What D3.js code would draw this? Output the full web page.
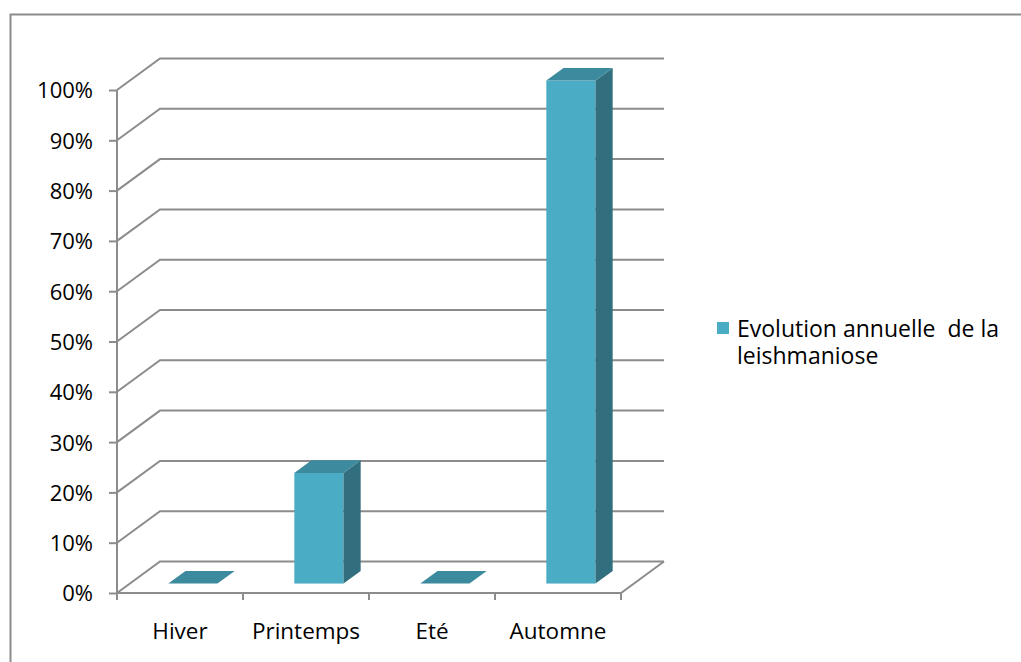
<!DOCTYPE html>
<html>
<script src='https://d3js.org/d3.v7.min.js'></script>
<style>
  html, body {
    margin: 0;
    background-color: #ffffff;
  }
  text {
    font-family: "Open Sans", sans-serif;
    fill: #000;
  }
</style>
<body>
<div id="vis"></div>
</body>
<script>
// chart values
var seasons = ["Hiver", "Printemps", "Eté", "Automne"];
var values = [0, 22, 0, 100];
var yTicks = [0, 10, 20, 30, 40, 50, 60, 70, 80, 90, 100];
var legendLines = ["Evolution annuelle  de la", "leishmaniose"];

var width = 1021, height = 662;

var svg = d3.select('#vis')
    .append('svg')
    .attr('width', width)
    .attr('height', height);

// outer frame
svg.append('rect')
    .attr('x', 10.5).attr('y', 14.5)
    .attr('width', 1040).attr('height', 700)
    .attr('fill', 'none')
    .attr('stroke', '#8c8c8c')
    .attr('stroke-width', 2);

var x_scale = d3.scaleBand()
    .domain(seasons)
    .range([117, 621])
    .padding(0);

var y_scale = d3.scaleLinear()
    .domain([0, 100])
    .range([593, 90]);

// depth of the 3d box
var dx = 43, dy = -31.5;
var grey = '#8c8c8c';

var grid = svg.append('g');

// side wall diagonals + back wall lines
yTicks.forEach(function(t) {
    var y = y_scale(t);
    grid.append('path')
        .attr('d', 'M' + 117 + ',' + y + 'L' + (117 + dx) + ',' + (y + dy) + 'L' + (621 + dx) + ',' + (y + dy))
        .attr('fill', 'none')
        .attr('stroke', grey)
        .attr('stroke-width', 2);
});

// floor front and right edges
grid.append('path')
    .attr('d', 'M117,' + y_scale(0) + 'L621,' + y_scale(0) + 'L' + (621 + dx) + ',' + (y_scale(0) + dy))
    .attr('fill', 'none')
    .attr('stroke', grey)
    .attr('stroke-width', 2);

// y axis
var y_axis = d3.axisLeft(y_scale)
    .tickValues(yTicks)
    .tickSize(8)
    .tickFormat(function(d) { return d + '%'; });

var yg = svg.append('g')
    .attr('transform', 'translate(117,0)')
    .call(y_axis);
yg.select('.domain').remove();
yg.selectAll('line').attr('stroke', grey).attr('stroke-width', 2);
yg.selectAll('text')
    .attr('x', -24)
    .attr('dy', '0.36em')
    .style('font-size', '22px')
    .style('font-family', '"Open Sans", sans-serif');
yg.append('line')
    .attr('x1', 0).attr('x2', 0)
    .attr('y1', y_scale(100)).attr('y2', y_scale(0) + 7)
    .attr('stroke', grey).attr('stroke-width', 2);

// x axis
var x_axis = d3.axisBottom(x_scale).tickSize(0).tickSizeOuter(0);
var xg = svg.append('g')
    .attr('transform', 'translate(0,' + y_scale(0) + ')')
    .call(x_axis);
xg.select('.domain').remove();
xg.selectAll('text')
    .attr('y', 30)
    .style('font-size', '22.5px')
    .style('font-family', '"Open Sans", sans-serif');

// tick marks between categories
var bounds = seasons.map(function(s) { return x_scale(s); }).concat([x_scale.range()[1]]);
xg.selectAll('.sep')
    .data(bounds)
    .enter()
    .append('line')
    .attr('x1', function(d) { return d; })
    .attr('x2', function(d) { return d; })
    .attr('y1', 0).attr('y2', 7)
    .attr('stroke', grey).attr('stroke-width', 2);

// bars
var bw = x_scale.bandwidth() * 0.39;
var f0 = 0.3, f1 = 0.7;
var ox = dx * f0, oy = dy * f0;
var ddx = dx * (f1 - f0), ddy = dy * (f1 - f0);

var bars = svg.selectAll('.bar')
    .data(seasons.map(function(s, i) { return {name: s, value: values[i]}; }))
    .enter()
    .append('g')
    .attr('class', 'bar');

bars.each(function(d) {
    var g = d3.select(this);
    var x0 = x_scale(d.name) + x_scale.bandwidth() / 2 - bw / 2 + ox;
    var x1 = x0 + bw;
    var yb = y_scale(0) + oy;
    var yt = y_scale(d.value) + oy;
    if (d.value > 0) {
        g.append('rect')
            .attr('x', x0).attr('y', yt)
            .attr('width', bw).attr('height', yb - yt)
            .attr('fill', '#4bacc6');
        g.append('path')
            .attr('d', 'M' + x1 + ',' + yt + 'L' + (x1 + ddx) + ',' + (yt + ddy) + 'L' + (x1 + ddx) + ',' + (yb + ddy) + 'L' + x1 + ',' + yb + 'Z')
            .attr('fill', '#316e7e');
    }
    g.append('path')
        .attr('d', 'M' + x0 + ',' + yt + 'L' + x1 + ',' + yt + 'L' + (x1 + ddx) + ',' + (yt + ddy) + 'L' + (x0 + ddx) + ',' + (yt + ddy) + 'Z')
        .attr('fill', '#3b8a9d');
});

// legend
var legend = svg.append('g');
legend.append('rect')
    .attr('x', 717).attr('y', 322)
    .attr('width', 12).attr('height', 12)
    .attr('fill', '#4bacc6');
legend.selectAll('text')
    .data(legendLines)
    .enter()
    .append('text')
    .attr('x', 737)
    .attr('y', function(d, i) { return 337 + i * 27; })
    .style('font-size', '23px')
    .attr('xml:space', 'preserve')
    .text(function(d) { return d; });
</script>
</html>
